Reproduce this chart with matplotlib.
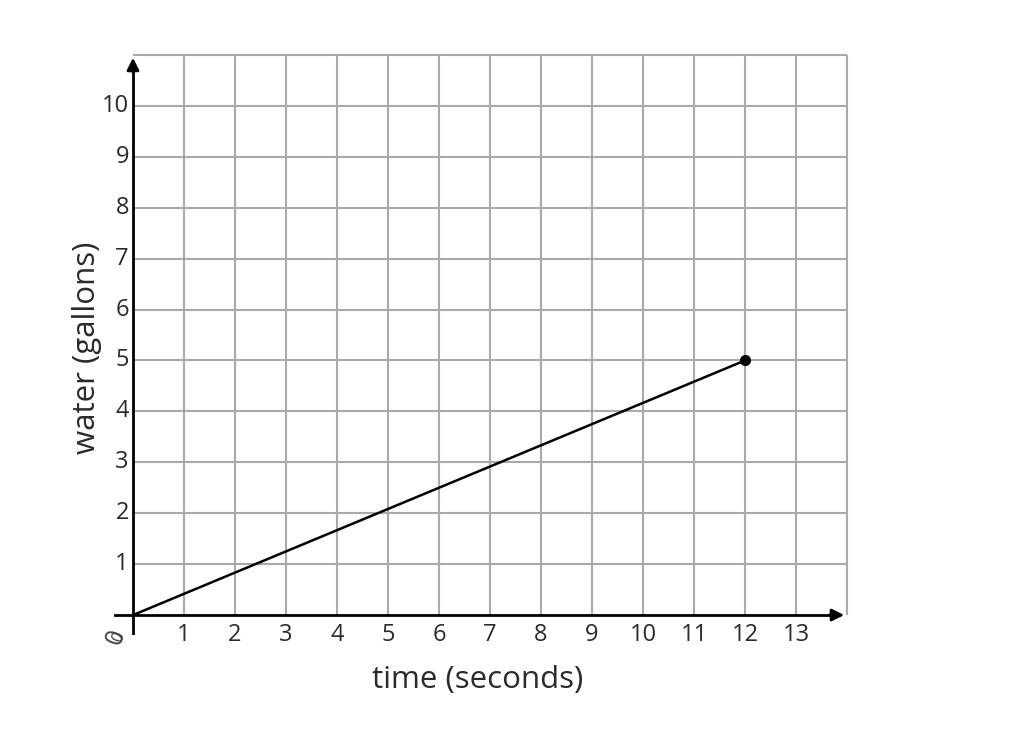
import numpy as np
import matplotlib.pyplot as plt

plt.rcParams['font.family'] = ['Open Sans', 'DejaVu Sans']

time_s = [0, 12]
water_gal = [0, 5]
x_ticks = list(range(1, 14))
y_ticks = list(range(1, 11))
x_max, y_max = 14, 11

fig = plt.figure(figsize=(10.18, 7.38), dpi=100)
ax = fig.add_axes([0.1106, 0.139, 0.7314, 0.8072])
ax.set_xlim(-0.4, 14.2)
ax.set_ylim(-0.4, 11.3)
ax.axis('off')

# grid
grid_kw = dict(color='#aaaaaa', lw=1.5, zorder=1)
ax.vlines(range(1, x_max + 1), 0, y_max, **grid_kw)
ax.hlines(range(1, y_max + 1), 0, x_max, **grid_kw)

# axes with arrows
ax.plot([-0.35, x_max - 0.2], [0, 0], color='black', lw=2, zorder=3)
ax.plot([0, 0], [-0.4, y_max - 0.2], color='black', lw=2, zorder=3)
ax.annotate('', xy=(x_max, 0), xytext=(x_max - 0.4, 0),
            arrowprops=dict(arrowstyle='-|>', color='black', lw=2, mutation_scale=18), zorder=4)
ax.annotate('', xy=(0, y_max), xytext=(0, y_max - 0.4),
            arrowprops=dict(arrowstyle='-|>', color='black', lw=2, mutation_scale=18), zorder=4)

# data
ax.plot(time_s, water_gal, color='black', lw=1.8, zorder=5)
ax.plot(time_s[-1], water_gal[-1], 'o', color='black', ms=7, zorder=6)

# tick labels
txt_c = '#2a2a2a'
for x in x_ticks:
    ax.text(x, -0.4, str(x), ha='center', va='center', fontsize=17, color=txt_c)
for y in y_ticks:
    ax.text(-0.08, y, str(y), ha='right', va='center', fontsize=17, color=txt_c)
ax.text(-0.34, -0.44, '0', ha='center', va='center', fontsize=18, rotation=70, color='#444444')
ax.text(-0.28, -0.44, '0', ha='center', va='center', fontsize=12, rotation=70, color='#444444')

ax.text(6.75, -1.28, 'time (seconds)', ha='center', va='center', fontsize=22.5, color=txt_c)
ax.text(-0.9, 5.25, 'water (gallons)', ha='center', va='center', fontsize=22.5, rotation=90, color=txt_c)

fig.savefig('out.png', dpi=100)
